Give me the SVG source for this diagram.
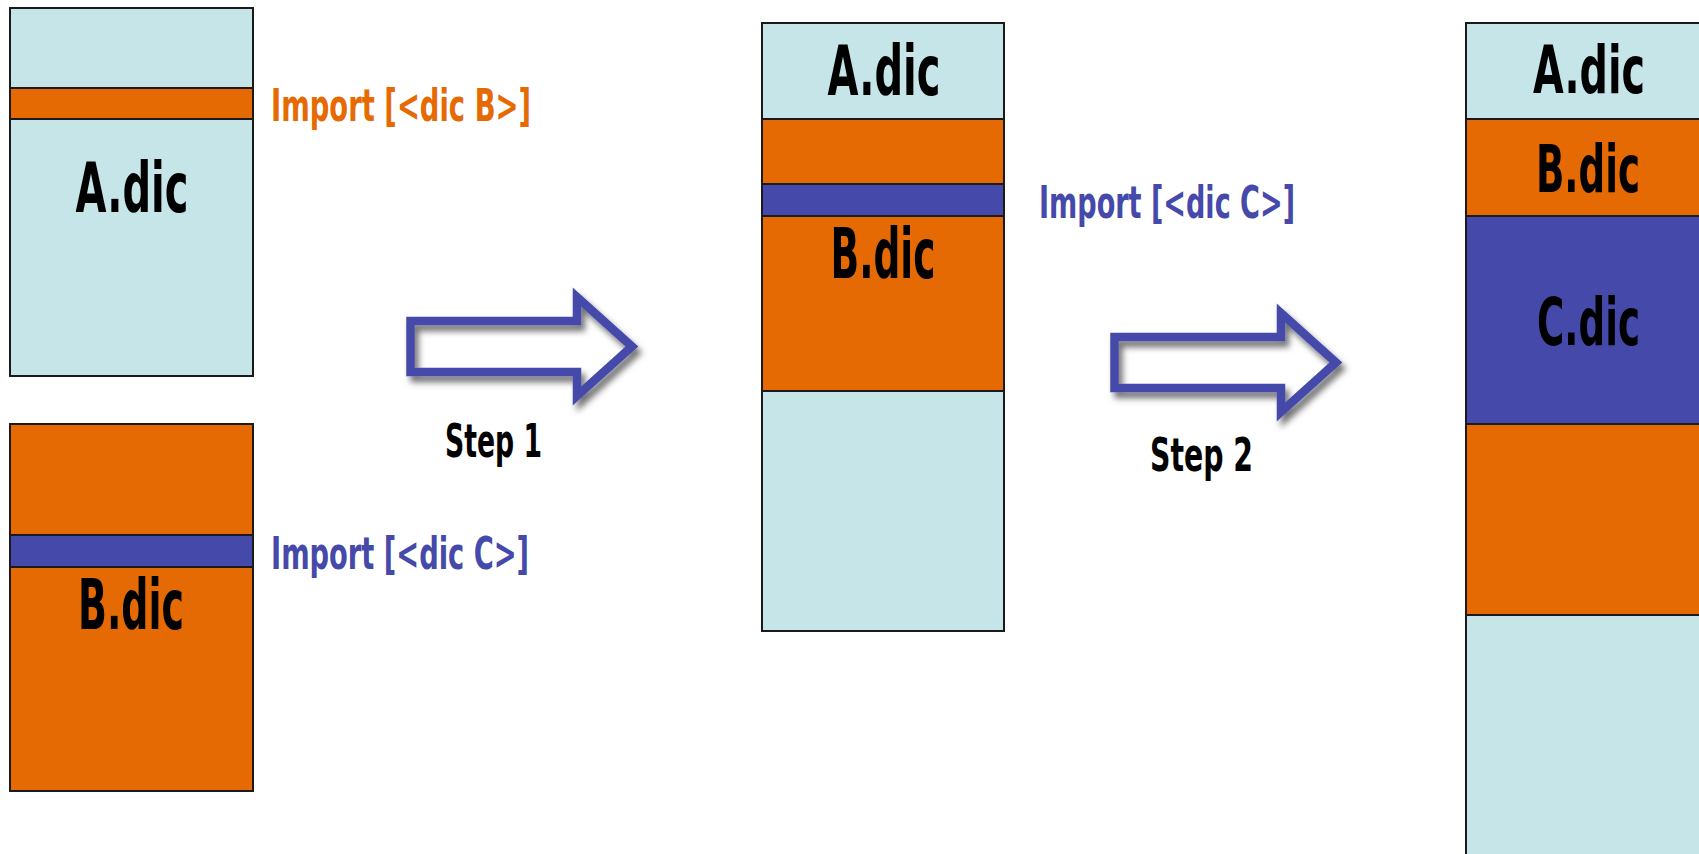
<svg xmlns="http://www.w3.org/2000/svg" width="1699" height="854" viewBox="0 0 1699 854">
  <style>
    .sky { fill: #C6E5E8; stroke: #1a1a1a; stroke-width: 2; }
    .org { fill: #E66A04; stroke: #1a1a1a; stroke-width: 2; }
    .ind { fill: #4549AA; stroke: #1a1a1a; stroke-width: 2; }
    .edge { stroke: #1a1a1a; stroke-width: 2; fill: none; }
    .lbl { font-family: "Liberation Sans Narrow", "DejaVu Sans Condensed", "Liberation Sans", sans-serif; font-weight: bold; fill: #000; text-anchor: middle; }
    .lbl-l { font-family: "Liberation Sans Narrow", "DejaVu Sans Condensed", "Liberation Sans", sans-serif; font-weight: bold; fill: #000; }
    .imp { font-family: "Liberation Sans Narrow", "DejaVu Sans Condensed", "Liberation Sans", sans-serif; font-weight: bold; font-size: 44px; }
    .step { font-family: "Liberation Sans Narrow", "DejaVu Sans Condensed", "Liberation Sans", sans-serif; font-weight: bold; font-size: 46px; fill: #000; }
    .arrow { fill: none; stroke: #4549AA; stroke-width: 8.5; stroke-linejoin: miter; }
  </style>
  <defs>
    <filter id="shadow" x="-20%" y="-30%" width="150%" height="170%">
      <feDropShadow dx="4" dy="6" stdDeviation="3" flood-color="#000" flood-opacity="0.55"/>
    </filter>
  </defs>
  <rect width="1699" height="854" fill="#fff"/>

  <!-- A.dic with its import line -->
  <g id="a-dic">
    <rect class="sky" x="10" y="8" width="243" height="368"/>
    <rect class="org" x="10" y="88" width="243" height="31"/>
    <text class="lbl" x="132" y="212" font-size="70" textLength="113" lengthAdjust="spacingAndGlyphs">A.dic</text>
    <text class="imp" x="271" y="121" fill="#E66A04" textLength="260" lengthAdjust="spacingAndGlyphs">Import [&lt;dic B&gt;]</text>
  </g>

  <!-- B.dic with its import line -->
  <g id="b-dic">
    <rect class="org" x="10" y="424" width="243" height="367"/>
    <rect class="ind" x="10" y="535" width="243" height="32"/>
    <text class="lbl" x="131" y="629" font-size="70" textLength="106" lengthAdjust="spacingAndGlyphs">B.dic</text>
    <text class="imp" x="271" y="569" fill="#4549AA" textLength="258" lengthAdjust="spacingAndGlyphs">Import [&lt;dic C&gt;]</text>
  </g>

  <!-- after step 1: B merged into A -->
  <g id="merged-ab">
    <rect class="sky" x="762" y="23" width="242" height="96"/>
    <rect class="org" x="762" y="119" width="242" height="65"/>
    <rect class="ind" x="762" y="184" width="242" height="32"/>
    <rect class="org" x="762" y="216" width="242" height="175"/>
    <rect class="sky" x="762" y="391" width="242" height="240"/>
    <text class="lbl" x="884" y="95" font-size="70" textLength="113" lengthAdjust="spacingAndGlyphs">A.dic</text>
    <text class="lbl" x="883" y="278" font-size="70" textLength="105" lengthAdjust="spacingAndGlyphs">B.dic</text>
    <text class="imp" x="1039" y="218" fill="#4549AA" textLength="256" lengthAdjust="spacingAndGlyphs">Import [&lt;dic C&gt;]</text>
  </g>

  <!-- after step 2: C merged into B; the column runs out at the right edge -->
  <g id="merged-abc">
    <rect x="1466" y="23" width="233" height="96" fill="#C6E5E8"/>
    <rect x="1466" y="119" width="233" height="97" fill="#E66A04"/>
    <rect x="1466" y="216" width="233" height="208" fill="#4549AA"/>
    <rect x="1466" y="424" width="233" height="191" fill="#E66A04"/>
    <rect x="1466" y="615" width="233" height="239" fill="#C6E5E8"/>
    <path class="edge" d="M1699,23 H1466 V854 M1466,119 H1699 M1466,216 H1699 M1466,424 H1699 M1466,615 H1699"/>
    <text class="lbl-l" x="1533" y="93" font-size="66" textLength="112" lengthAdjust="spacingAndGlyphs">A.dic</text>
    <text class="lbl-l" x="1536" y="192" font-size="66" textLength="104" lengthAdjust="spacingAndGlyphs">B.dic</text>
    <text class="lbl-l" x="1537" y="345" font-size="65" textLength="103" lengthAdjust="spacingAndGlyphs">C.dic</text>
  </g>

  <!-- step arrows -->
  <g id="connectors">
    <g id="step1">
      <path class="arrow" filter="url(#shadow)" d="M410.5,321 H577 V297 L632,346.5 L577,396 V372 H410.5 Z"/>
      <text class="step" x="445" y="457" textLength="97" lengthAdjust="spacingAndGlyphs">Step 1</text>
    </g>
    <g id="step2">
      <path class="arrow" filter="url(#shadow)" d="M1114.5,337 H1281 V313 L1336,362.5 L1281,412 V388 H1114.5 Z"/>
      <text class="step" x="1150" y="471" textLength="103" lengthAdjust="spacingAndGlyphs">Step 2</text>
    </g>
  </g>
</svg>
